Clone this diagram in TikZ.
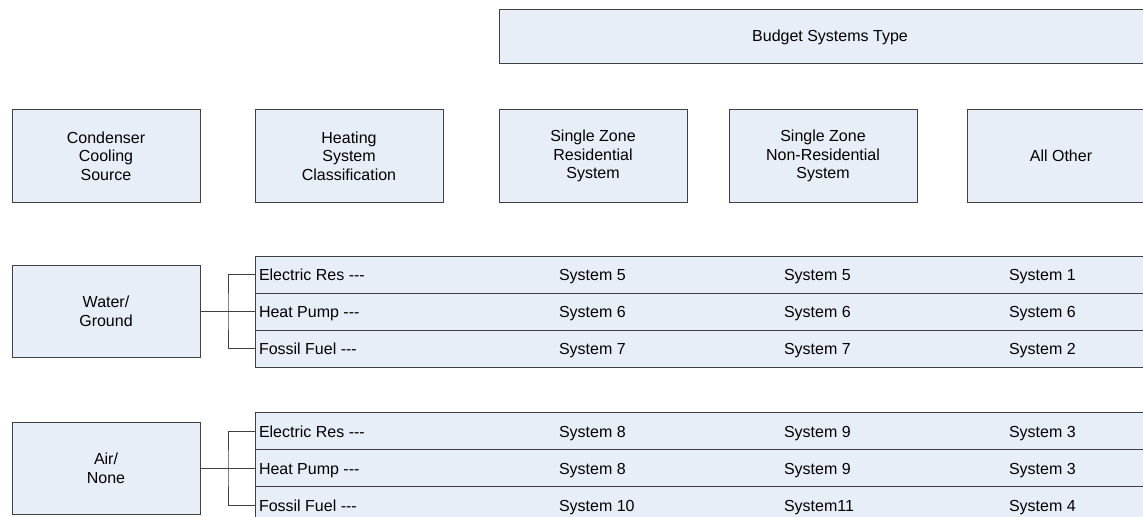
\documentclass[tikz,border=0pt]{standalone}
\usepackage{fontspec}
\setmainfont{Liberation Sans}
\usetikzlibrary{calc}
\definecolor{boxfill}{RGB}{232,238,247}
\definecolor{boxline}{RGB}{64,64,64}
\tikzset{
  basebox/.style={draw=boxline, fill=boxfill, line width=0.75pt, inner sep=0pt, outer sep=0pt,
    font=\fontsize{12}{14}\selectfont, align=center},
  hdrbox/.style={basebox, minimum width=141pt, minimum height=69pt},
  topbox/.style={basebox, minimum width=496.5pt, minimum height=40.5pt},
  srcbox/.style={basebox, minimum width=141pt, minimum height=69pt},
  rowbox/.style={basebox, minimum width=679.5pt, minimum height=27.75pt},
  celltxt/.style={anchor=base west, inner sep=0pt, outer sep=0pt, font=\fontsize{12}{14}\selectfont},
  link/.style={draw=boxline, line width=0.75pt},
}
\newcommand\tblrow[6]{%
  \node[rowbox] (#1) at (708,#2) {};
  \node[celltxt] (#1-l) at (259,#2+6) {#3};
  \node[celltxt] (#1-a) at (559,#2+6) {#4};
  \node[celltxt] (#1-b) at (784,#2+6) {#5};
  \node[celltxt] (#1-c) at (1009,#2+6) {#6};
}
\begin{document}
\begin{tikzpicture}[x=0.75pt,y=-0.75pt]
\useasboundingbox (0,0) rectangle (1143,517);

% top header
\node[topbox] (bst) at (830,37) {Budget Systems Type};

% column headers
\node[hdrbox] (ccs) at (106,156) {Condenser\\Cooling\\Source};
\node[hdrbox] (hsc) at (349,156) {Heating\\System\\Classification};
\node[hdrbox] (szr) at (593,156) {Single Zone\\Residential\\System};
\node[hdrbox] (szn) at (823,156) {Single Zone\\Non-Residential\\System};
\node[hdrbox] (ao)  at (1061,156) {All Other};

% group 1
\tblrow{r11}{274.5}{Electric Res -{}-{}-}{System 5}{System 5}{System 1}
\tblrow{r12}{311.5}{Heat Pump -{}-{}-}{System 6}{System 6}{System 6}
\tblrow{r13}{348.5}{Fossil Fuel -{}-{}-}{System 7}{System 7}{System 2}
\node[srcbox] (wg) at (106,311.5) {Water/\\Ground};
\coordinate (b1) at (228,311.5);
\draw[link] (wg.east) -- (r12.west);
\draw[link] (r11.west) -| (b1) |- (r13.west);

% group 2
\tblrow{r21}{431}{Electric Res -{}-{}-}{System 8}{System 9}{System 3}
\tblrow{r22}{468}{Heat Pump -{}-{}-}{System 8}{System 9}{System 3}
\tblrow{r23}{505}{Fossil Fuel -{}-{}-}{System 10}{System11}{System 4}
\node[srcbox] (an) at (106,468) {Air/\\None};
\coordinate (b2) at (228,468);
\draw[link] (an.east) -- (r22.west);
\draw[link] (r21.west) -| (b2) |- (r23.west);
\end{tikzpicture}
\end{document}
